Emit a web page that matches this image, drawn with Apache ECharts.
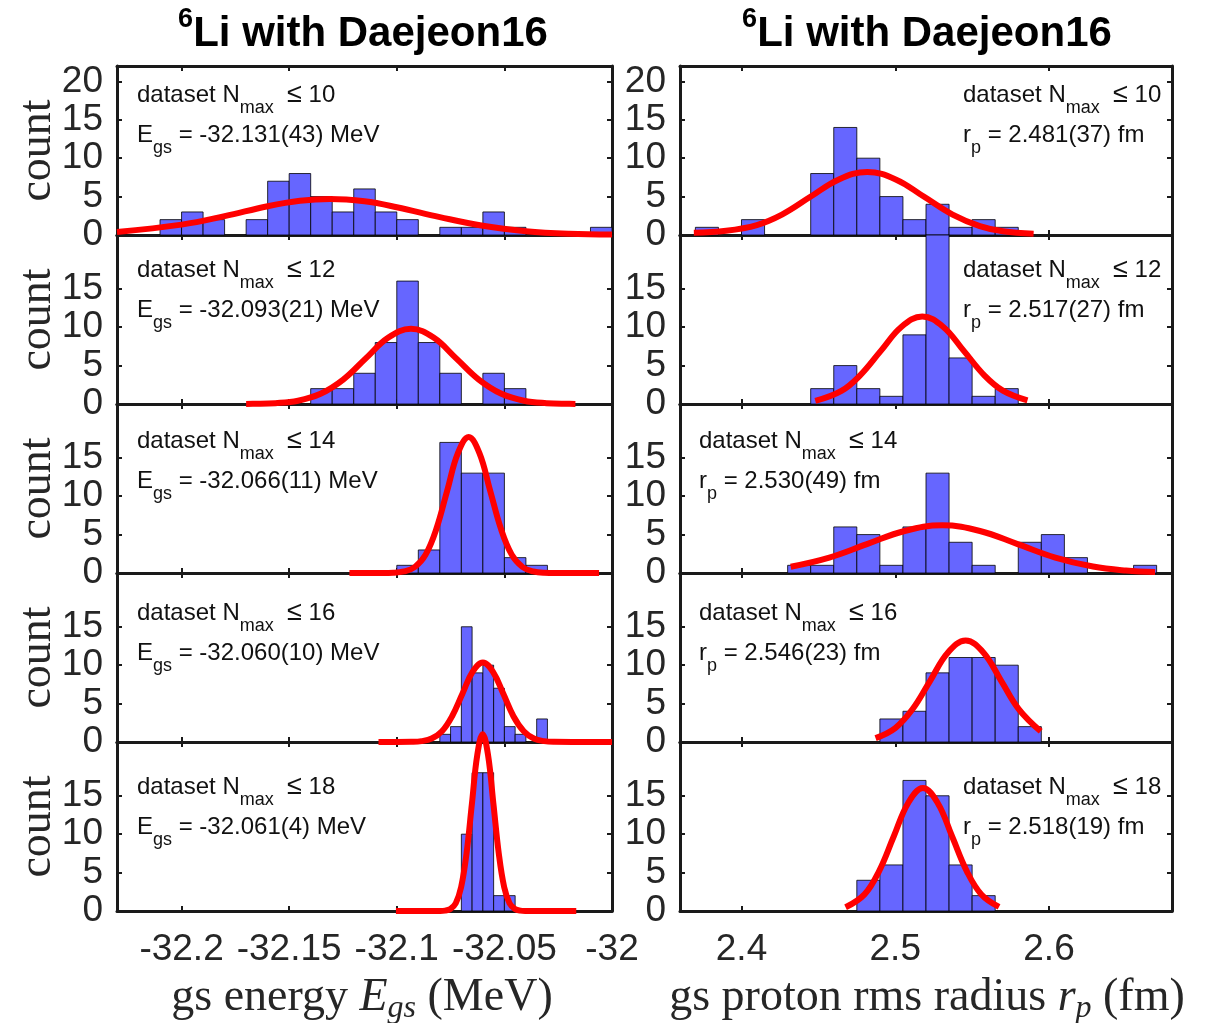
<!DOCTYPE html>
<html>
<head>
<meta charset="utf-8">
<title>6Li with Daejeon16</title>
<script src="https://cdn.jsdelivr.net/npm/echarts@6/dist/echarts.min.js"></script>
<style>
html, body { margin: 0; padding: 0; background: #fff; }
#chart { width: 1205px; height: 1023px; }
</style>
</head>
<body>
<div id="chart"></div>
<script>
// ---- data ----
const nmaxValues = [10, 12, 14, 16, 18]
const energyFits = ['-32.131(43)', '-32.093(21)', '-32.066(11)', '-32.060(10)', '-32.061(4)']
const radiusFits = ['2.481(37)', '2.517(27)', '2.530(49)', '2.546(23)', '2.518(19)']

const energyRange = [-32.23, -32.0]
const energyTicks = [-32.2, -32.15, -32.1, -32.05, -32]
const energyTickLabels = ['-32.2', '-32.15', '-32.1', '-32.05', '-32']
const radiusRange = [2.36, 2.68]
const radiusTicks = [2.4, 2.5, 2.6]
const radiusTickLabels = ['2.4', '2.5', '2.6']
const countTicksTop = [0, 5, 10, 15, 20]
const countTicks = [0, 5, 10, 15]

// histogram bins: first bin edge, bin width, counts per bin
const energyFirstEdges = [-32.21, -32.14, -32.10, -32.08, -32.07]
const energyBinWidths = [0.01, 0.01, 0.01, 0.005, 0.005]
const energyCounts10 = [2, 3, 2, 0, 2, 7, 8, 5, 3, 6, 3, 2, 0, 1, 1, 3, 1, 0, 0, 0, 1]
const energyCounts12 = [2, 2, 4, 8, 16, 8, 4, 0, 4, 2]
const energyCounts14 = [1, 3, 17, 13, 13, 2, 1]
const energyCounts16 = [1, 2, 15, 9, 10, 7, 2, 1, 0, 3]
const energyCounts18 = [10, 18, 18, 2, 2]

const radiusFirstEdges = [2.37, 2.445, 2.43, 2.49, 2.475]
const radiusBinWidths = [0.015, 0.015, 0.015, 0.015, 0.015]
const radiusCounts10 = [1, 0, 2, 0, 0, 8, 14, 10, 5, 2, 4, 1, 2, 1]
const radiusCounts12 = [2, 5, 2, 1, 9, 22, 6, 1, 2]
const radiusCounts14 = [1, 1, 6, 5, 1, 6, 13, 4, 1, 0, 4, 5, 2, 0, 0, 1]
const radiusCounts16 = [3, 4, 9, 11, 11, 10, 2]
const radiusCounts18 = [4, 6, 17, 15, 6, 2]

// fitted gaussian curves
const energyCurve10 = [[-32.23, 0.4], [-32.2, 1.35], [-32.18, 2.45], [-32.16, 3.75], [-32.145, 4.46], [-32.131, 4.7], [-32.115, 4.39], [-32.1, 3.62], [-32.08, 2.33], [-32.06, 1.2], [-32.04, 0.5], [-32.02, 0.17], [-32.0, 0.08]]
const energyCurve12 = [[-32.17, 0.01], [-32.1669, 0.02], [-32.1564, 0.11], [-32.1459, 0.43], [-32.1354, 1.33], [-32.1249, 3.18], [-32.1144, 5.94], [-32.1039, 8.65], [-32.0934, 9.8], [-32.0829, 8.65], [-32.0724, 5.94], [-32.0619, 3.18], [-32.0514, 1.33], [-32.0409, 0.43], [-32.0304, 0.11], [-32.0199, 0.02], [-32.017, 0.01]]
const energyCurve14 = [[-32.122, 0], [-32.112, 0], [-32.1016, 0.04], [-32.0966, 0.2], [-32.0916, 0.78], [-32.0866, 2.39], [-32.0816, 5.75], [-32.0766, 10.7], [-32.0716, 15.6], [-32.0666, 17.7], [-32.0616, 15.6], [-32.0566, 10.7], [-32.0516, 5.75], [-32.0466, 2.39], [-32.0416, 0.78], [-32.0366, 0.2], [-32.0316, 0.04], [-32.02, 0], [-32.006, 0]]
const energyCurve16 = [[-32.1085, 0], [-32.1, 0], [-32.0933, 0.02], [-32.0885, 0.11], [-32.0838, 0.45], [-32.079, 1.4], [-32.0743, 3.36], [-32.0695, 6.28], [-32.0648, 9.13], [-32.06, 10.35], [-32.0553, 9.13], [-32.0505, 6.28], [-32.0458, 3.36], [-32.041, 1.4], [-32.0363, 0.45], [-32.0315, 0.11], [-32.0268, 0.02], [-32.015, 0], [-32.0, 0]]
const energyCurve18 = [[-32.1004, 0], [-32.088, 0], [-32.0801, 0.01], [-32.0776, 0.05], [-32.0751, 0.26], [-32.0726, 1.01], [-32.0701, 3.11], [-32.0676, 7.47], [-32.0651, 13.95], [-32.0626, 20.3], [-32.0601, 23], [-32.0576, 20.3], [-32.0551, 13.95], [-32.0526, 7.47], [-32.0501, 3.11], [-32.0476, 1.01], [-32.0451, 0.26], [-32.0426, 0.05], [-32.0401, 0.01], [-32.03, 0], [-32.0166, 0]]

const radiusCurve10 = [[2.369, 0.3], [2.39, 0.55], [2.41, 1.3], [2.4263, 2.66], [2.4448, 4.97], [2.4633, 7.24], [2.4818, 8.2], [2.5003, 7.24], [2.5188, 4.97], [2.5373, 2.66], [2.555, 1.16], [2.57, 0.48], [2.59, 0.15]]
const radiusCurve12 = [[2.448, 0.41], [2.465, 1.71], [2.477, 3.7], [2.4906, 6.91], [2.5041, 10.06], [2.5176, 11.4], [2.5311, 10.06], [2.5446, 6.91], [2.5581, 3.7], [2.57, 1.74], [2.586, 0.47]]
const radiusCurve14 = [[2.432, 0.82], [2.4571, 2.01], [2.4816, 3.76], [2.5061, 5.47], [2.5306, 6.2], [2.5551, 5.47], [2.5796, 3.76], [2.6041, 2.01], [2.6286, 0.84], [2.65, 0.32], [2.669, 0.12]]
const radiusCurve16 = [[2.4872, 0.51], [2.5, 1.82], [2.5113, 4.29], [2.5228, 8.0], [2.5343, 11.65], [2.5458, 13.2], [2.5573, 11.65], [2.5688, 8.0], [2.5803, 4.29], [2.5946, 1.39]]
const radiusCurve18 = [[2.4677, 0.48], [2.48, 2.16], [2.4895, 5.2], [2.499, 9.7], [2.5085, 14.1], [2.518, 16], [2.5275, 14.1], [2.537, 9.7], [2.5465, 5.2], [2.556, 2.16], [2.5675, 0.54]]

const energyCounts = [energyCounts10, energyCounts12, energyCounts14, energyCounts16, energyCounts18]
const radiusCounts = [radiusCounts10, radiusCounts12, radiusCounts14, radiusCounts16, radiusCounts18]
const energyCurves = [energyCurve10, energyCurve12, energyCurve14, energyCurve16, energyCurve18]
const radiusCurves = [radiusCurve10, radiusCurve12, radiusCurve14, radiusCurve16, radiusCurve18]

// ---- layout ----
const colLeft = [117, 680]
const colWidth = [495, 492]
const rowTop = [66, 235, 404, 573, 742]
const rowHeight = 169
const textX = [[137, 137, 137, 137, 137], [963, 963, 699, 699, 963]]
const textY = [95, 270, 441, 613, 787]

const sansFont = '"Liberation Sans", Arial, sans-serif'
const serifFont = '"Liberation Serif", "Times New Roman", serif'
const frameColor = '#1a1a1a'

function binsToData (firstEdge, width, counts) {
  const out = []
  counts.forEach((c, i) => {
    if (c > 0) {
      const x0 = firstEdge + i * width
      out.push([x0, x0 + width, c])
    }
  })
  return out
}

function pickLabel (ticks, labels) {
  return function (v) {
    const i = ticks.findIndex(t => Math.abs(t - v) < 1e-9)
    return i >= 0 ? labels[i] : ''
  }
}

const grid = []
const xAxis = []
const yAxis = []
const series = []
const graphic = []

for (let c = 0; c < 2; c++) {
  for (let r = 0; r < 5; r++) {
    const g = c * 5 + r
    const range = c === 0 ? energyRange : radiusRange
    const ticks = c === 0 ? energyTicks : radiusTicks
    const tickLabels = c === 0 ? energyTickLabels : radiusTickLabels
    const yTicks = r === 0 ? countTicksTop : countTicks
    const bins = c === 0
      ? binsToData(energyFirstEdges[r], energyBinWidths[r], energyCounts[r])
      : binsToData(radiusFirstEdges[r], radiusBinWidths[r], radiusCounts[r])
    const curve = c === 0 ? energyCurves[r] : radiusCurves[r]

    grid.push({ left: colLeft[c], top: rowTop[r], width: colWidth[c], height: rowHeight })

    const line = { show: true, onZero: false, lineStyle: { color: frameColor, width: 3 } }
    const tickStyle = { color: frameColor, width: 2 }
    // bottom + top (mirror) x axes
    xAxis.push({
      type: 'value', gridIndex: g, position: 'bottom', min: range[0], max: range[1],
      axisLine: line,
      axisTick: { show: true, inside: true, length: 5, customValues: ticks, lineStyle: tickStyle },
      axisLabel: {
        show: r === 4, customValues: ticks, formatter: pickLabel(ticks, tickLabels),
        margin: 20, fontSize: 37, color: '#262626', fontFamily: sansFont
      },
      splitLine: { show: false }
    })
    xAxis.push({
      type: 'value', gridIndex: g, position: 'top', min: range[0], max: range[1],
      axisLine: line,
      axisTick: { show: true, inside: true, length: 5, customValues: ticks, lineStyle: tickStyle },
      axisLabel: { show: false },
      splitLine: { show: false }
    })
    // left + right (mirror) y axes
    yAxis.push({
      type: 'value', gridIndex: g, position: 'left', min: 0, max: 22,
      axisLine: line,
      axisTick: { show: true, inside: true, length: 5, customValues: yTicks, lineStyle: tickStyle },
      axisLabel: {
        show: true, customValues: yTicks, formatter: v => String(v),
        margin: 14, fontSize: 37, color: '#262626', fontFamily: sansFont
      },
      splitLine: { show: false }
    })
    yAxis.push({
      type: 'value', gridIndex: g, position: 'right', min: 0, max: 22,
      axisLine: line,
      axisTick: { show: true, inside: true, length: 5, customValues: yTicks, lineStyle: tickStyle },
      axisLabel: { show: false },
      splitLine: { show: false }
    })

    // histogram
    series.push({
      type: 'custom',
      xAxisIndex: 2 * g,
      yAxisIndex: 2 * g,
      data: bins,
      encode: { x: [0, 1], y: 2 },
      silent: true,
      z: 2,
      renderItem: function (params, api) {
        const p0 = api.coord([api.value(0), api.value(2)])
        const p1 = api.coord([api.value(1), 0])
        return {
          type: 'rect',
          shape: { x: p0[0], y: p0[1], width: p1[0] - p0[0], height: p1[1] - p0[1] },
          style: { fill: '#6666ff', stroke: '#000', lineWidth: 0.8 }
        }
      }
    })
    // gaussian fit
    series.push({
      type: 'line',
      xAxisIndex: 2 * g,
      yAxisIndex: 2 * g,
      data: curve,
      smooth: 0.4,
      showSymbol: false,
      clip: false,
      silent: true,
      z: 3,
      lineStyle: { color: '#ff0000', width: 6 }
    })

    // annotation text
    const line2 = c === 0
      ? '{a|E}{s|gs}{a| = ' + energyFits[r] + ' MeV}'
      : '{a|r}{s|p}{a| = ' + radiusFits[r] + ' fm}'
    const rich = {
      a: { fontSize: 24, fontFamily: sansFont, fill: '#111' },
      le: { fontSize: 27, fontFamily: sansFont, fill: '#111' },
      s: { fontSize: 18, fontFamily: sansFont, fill: '#111', padding: [26, 0, 0, 0] }
    }
    graphic.push({
      type: 'text', x: textX[c][r], y: textY[r], z: 10,
      style: { text: '{a|dataset N}{s|max}{a|  }{le|≤}{a| ' + nmaxValues[r] + '}', rich: rich, align: 'left', verticalAlign: 'middle' }
    })
    graphic.push({
      type: 'text', x: textX[c][r], y: textY[r] + 40, z: 10,
      style: { text: line2, rich: rich, align: 'left', verticalAlign: 'middle' }
    })
    // y axis name, left column only
    if (c === 0) {
      graphic.push({
        type: 'text', x: 38, y: rowTop[r] + rowHeight / 2, rotation: Math.PI / 2,
        style: { text: 'count', fontSize: 46, fontFamily: serifFont, fill: '#262626', align: 'center', verticalAlign: 'middle' }
      })
    }
  }
}

// column titles
const titleRich = {
  sup: { fontSize: 27, fontWeight: 'bold', fontFamily: sansFont, fill: '#000', padding: [0, 0, 28, 0] },
  t: { fontSize: 42, fontWeight: 'bold', fontFamily: sansFont, fill: '#000' }
}
graphic.push({ type: 'text', x: 363, y: 34, style: { text: '{sup|6}{t|Li with Daejeon16}', rich: titleRich, align: 'center', verticalAlign: 'middle' } })
graphic.push({ type: 'text', x: 927, y: 34, style: { text: '{sup|6}{t|Li with Daejeon16}', rich: titleRich, align: 'center', verticalAlign: 'middle' } })

// x axis names
const nameRich = {
  r: { fontSize: 46, fontFamily: serifFont, fill: '#262626' },
  i: { fontSize: 46, fontFamily: serifFont, fontStyle: 'italic', fill: '#262626' },
  s: { fontSize: 32, fontFamily: serifFont, fontStyle: 'italic', fill: '#262626', padding: [22, 0, 0, 0] }
}
graphic.push({ type: 'text', x: 362, y: 998, style: { text: '{r|gs energy }{i|E}{s|gs}{r| (MeV)}', rich: nameRich, align: 'center', verticalAlign: 'middle' } })
graphic.push({ type: 'text', x: 927, y: 998, style: { text: '{r|gs proton rms radius }{i|r}{s|p}{r| (fm)}', rich: nameRich, align: 'center', verticalAlign: 'middle' } })

const myChart = echarts.init(document.getElementById('chart'))
myChart.setOption({
  animation: false,
  backgroundColor: '#fff',
  grid: grid,
  xAxis: xAxis,
  yAxis: yAxis,
  series: series,
  graphic: graphic
})
</script>
</body>
</html>
